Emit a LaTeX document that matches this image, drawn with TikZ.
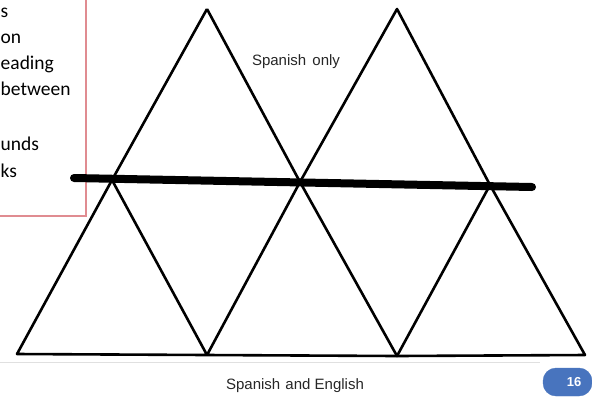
\documentclass[tikz,border=0pt]{standalone}
\usepackage{fontspec}
\setmainfont{Liberation Sans}
\newfontfamily\notefont{Carlito}
\usetikzlibrary{positioning}
\definecolor{BoxRed}{RGB}{224,140,145}
\definecolor{PageBlue}{RGB}{72,116,190}

\begin{document}
\begin{tikzpicture}[x=1bp,y=-1bp,
  edge/.style={line width=2.6bp,line join=round},
  split/.style={line width=8bp,line cap=round},
  label/.style={font=\fontsize{15bp}{17bp}\selectfont,text=black!85,inner sep=0pt},
  note/.style={font=\notefont\fontsize{19.5bp}{22bp}\selectfont,inner sep=0pt,anchor=base west}]
\useasboundingbox (0,0) rectangle (592,399);
% text box on the left, only its right part shows
\node[note] (n1) at (0.5,17) {s};
\node[note] (n2) at (0.5,43) {on};
\node[note] (n3) at (0.5,69) {eading};
\node[note] (n4) at (0.5,95) {between};
\node[note] (n5) at (0.5,150) {unds};
\node[note] (n6) at (0.5,177) {ks};
\draw[BoxRed,line width=1.2bp] (86,0) -- (86,216) -- (0,216);
\draw[black!12,line width=1bp] (0,362) -- (540,362);
% vertices
\coordinate (tl) at (207,9);
\coordinate (tr) at (397,9);
\coordinate (lm) at (112,180);
\coordinate (cm) at (300,182);
\coordinate (rm) at (490,185);
\coordinate (b1) at (17,354);
\coordinate (b2) at (207,355);
\coordinate (b3) at (397,356);
\coordinate (b4) at (585,355);
\coordinate (sa) at (74,178);
\coordinate (sb) at (532,187);
% triangles
\draw[edge] (tl) -- (lm) -- (b1) -- (b2) -- (b3) -- (b4) -- (rm) -- (tr) -- (cm) -- (b2) -- (lm);
\draw[edge] (tl) -- (cm) -- (b3) -- (rm);
\draw[split] (sa) -- (sb);
\node[label] (only) at (296,62) {Spanish\hspace{2bp} only};
\node[label] (both) at (295,386) {Spanish\hspace{1bp} and English};
\draw[PageBlue,fill=PageBlue,rounded corners=13bp] (543,368) rectangle (592,396);
\node[font=\bfseries\fontsize{13bp}{14bp}\selectfont,text=white,inner sep=0pt] (page) at (574,382) {16};
\end{tikzpicture}
\end{document}
